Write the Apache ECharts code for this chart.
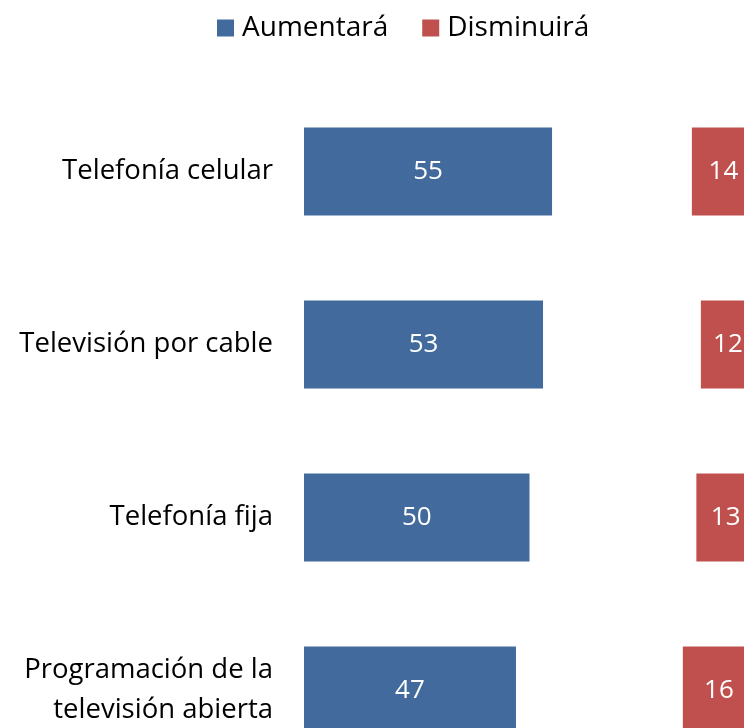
<!DOCTYPE html>
<html><head><meta charset="utf-8">
<script src="https://cdn.jsdelivr.net/npm/echarts@6/dist/echarts.min.js"></script>
<style>html,body{margin:0;padding:0;background:#fff}#c{width:744px;height:728px}</style>
</head><body><div id="c"></div>
<script>
const categories = ["Telefonía celular", "Televisión por cable", "Telefonía fija", "Programación de la\ntelevisión abierta"];
const aumentara = [55, 53, 50, 47];
const resto = [31, 35, 37, 37];
const disminuira = [14, 12, 13, 16];

const chart = echarts.init(document.getElementById('c'));
const FONT = "'Open Sans', 'Noto Sans', sans-serif";
chart.setOption({
  animation: false,
  textStyle: {fontFamily: FONT},
  legend: {
    data: ["Aumentará", "Disminuirá"],
    top: 9, left: 212,
    itemWidth: 17, itemHeight: 17, itemGap: 34,
    icon: 'rect',
    textStyle: {fontSize: 28, color: '#000', fontFamily: FONT, padding: [0, 0, 0, 3]}
  },
  grid: {left: 304, top: 85, width: 451, height: 692, containLabel: false, outerBoundsMode: 'none'},
  xAxis: {type: 'value', min: 0, max: 100, show: false},
  yAxis: {
    type: 'category', data: categories, inverse: true,
    axisLine: {show: false}, axisTick: {show: false},
    axisLabel: {fontSize: 27.5, color: '#000', margin: 31, lineHeight: 40, fontFamily: FONT, align: 'right'}
  },
  series: [
    {name: "Aumentará", type: 'bar', stack: 't', data: aumentara, barCategoryGap: '49%',
      itemStyle: {color: '#426A9D'},
      label: {show: true, position: 'inside', color: '#fff', fontSize: 26, fontFamily: FONT}},
    {name: "Resto", type: 'bar', stack: 't', data: resto,
      itemStyle: {color: 'rgba(0,0,0,0)'}, label: {show: false}, silent: true},
    {name: "Disminuirá", type: 'bar', stack: 't', data: disminuira,
      itemStyle: {color: '#C0504D'},
      label: {show: true, position: 'inside', color: '#fff', fontSize: 26, fontFamily: FONT}}
  ]
});
</script></body></html>
